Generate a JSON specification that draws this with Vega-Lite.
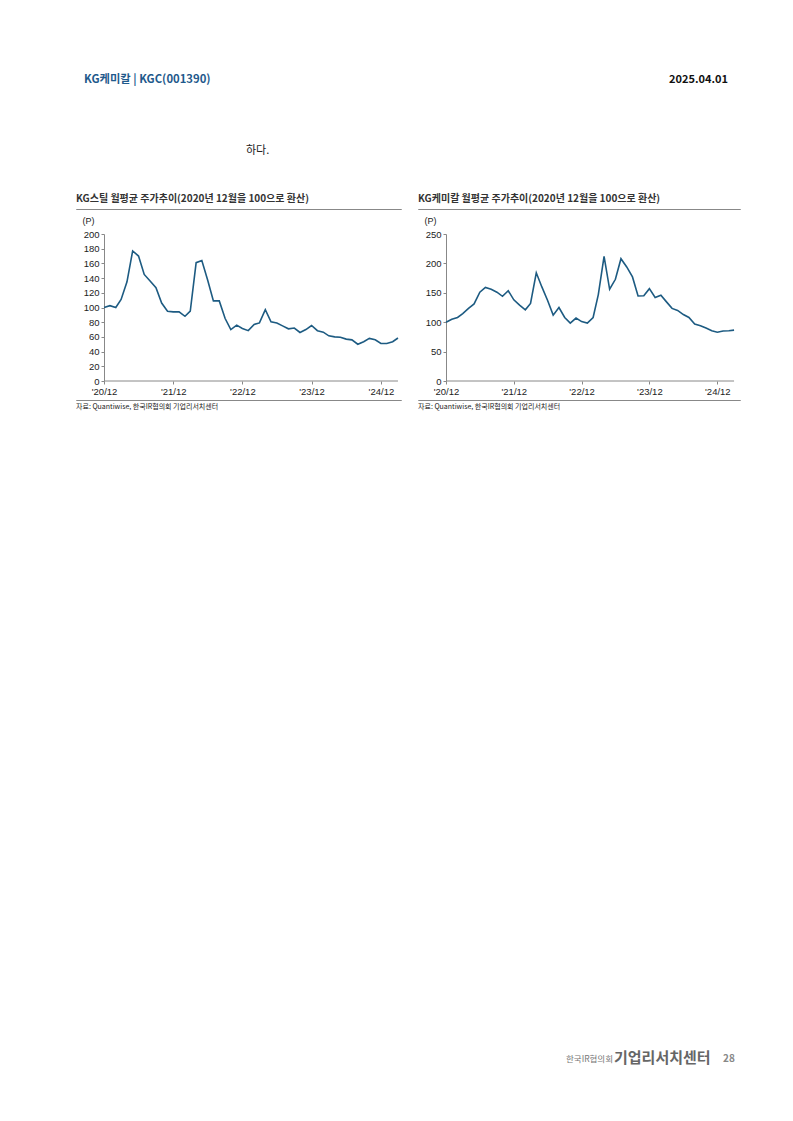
{
  "$schema": "https://vega.github.io/schema/vega-lite/v6.json",
  "background": "white",
  "padding": {"left": 75, "top": 73, "right": 0, "bottom": 0},
  "spacing": 0,
  "config": {
    "view": {"stroke": null},
    "font": "Liberation Sans",
    "title": {"font": "Noto Sans CJK KR", "anchor": "start"}
  },
  "datasets": {
    "steel": [
      {"date": "2020-12-01", "value": 100}, {"date": "2021-01-01", "value": 102.5}, {"date": "2021-02-01", "value": 100},
      {"date": "2021-03-01", "value": 111}, {"date": "2021-04-01", "value": 135}, {"date": "2021-05-01", "value": 177},
      {"date": "2021-06-01", "value": 170}, {"date": "2021-07-01", "value": 145}, {"date": "2021-08-01", "value": 136},
      {"date": "2021-09-01", "value": 127}, {"date": "2021-10-01", "value": 106}, {"date": "2021-11-01", "value": 95},
      {"date": "2021-12-01", "value": 94}, {"date": "2022-01-01", "value": 94}, {"date": "2022-02-01", "value": 88},
      {"date": "2022-03-01", "value": 95}, {"date": "2022-04-01", "value": 161}, {"date": "2022-05-01", "value": 164},
      {"date": "2022-06-01", "value": 137}, {"date": "2022-07-01", "value": 109}, {"date": "2022-08-01", "value": 109},
      {"date": "2022-09-01", "value": 85}, {"date": "2022-10-01", "value": 70}, {"date": "2022-11-01", "value": 76},
      {"date": "2022-12-01", "value": 71.5}, {"date": "2023-01-01", "value": 68.5}, {"date": "2023-02-01", "value": 77},
      {"date": "2023-03-01", "value": 79}, {"date": "2023-04-01", "value": 97}, {"date": "2023-05-01", "value": 80.5},
      {"date": "2023-06-01", "value": 79}, {"date": "2023-07-01", "value": 75}, {"date": "2023-08-01", "value": 71},
      {"date": "2023-09-01", "value": 72}, {"date": "2023-10-01", "value": 66}, {"date": "2023-11-01", "value": 70},
      {"date": "2023-12-01", "value": 75.5}, {"date": "2024-01-01", "value": 68.5}, {"date": "2024-02-01", "value": 66.5},
      {"date": "2024-03-01", "value": 61.5}, {"date": "2024-04-01", "value": 60}, {"date": "2024-05-01", "value": 59.5},
      {"date": "2024-06-01", "value": 57}, {"date": "2024-07-01", "value": 56}, {"date": "2024-08-01", "value": 50},
      {"date": "2024-09-01", "value": 53.5}, {"date": "2024-10-01", "value": 58}, {"date": "2024-11-01", "value": 56},
      {"date": "2024-12-01", "value": 51}, {"date": "2025-01-01", "value": 51}, {"date": "2025-02-01", "value": 53.5},
      {"date": "2025-03-01", "value": 58.5}
    ],
    "chem": [
      {"date": "2020-12-01", "value": 100}, {"date": "2021-01-01", "value": 105}, {"date": "2021-02-01", "value": 108},
      {"date": "2021-03-01", "value": 114.5}, {"date": "2021-04-01", "value": 123.5}, {"date": "2021-05-01", "value": 131},
      {"date": "2021-06-01", "value": 151}, {"date": "2021-07-01", "value": 159}, {"date": "2021-08-01", "value": 156},
      {"date": "2021-09-01", "value": 151}, {"date": "2021-10-01", "value": 144}, {"date": "2021-11-01", "value": 153.5},
      {"date": "2021-12-01", "value": 138}, {"date": "2022-01-01", "value": 129}, {"date": "2022-02-01", "value": 121},
      {"date": "2022-03-01", "value": 132}, {"date": "2022-04-01", "value": 184}, {"date": "2022-05-01", "value": 160},
      {"date": "2022-06-01", "value": 137}, {"date": "2022-07-01", "value": 112}, {"date": "2022-08-01", "value": 125},
      {"date": "2022-09-01", "value": 108}, {"date": "2022-10-01", "value": 98.5}, {"date": "2022-11-01", "value": 107},
      {"date": "2022-12-01", "value": 101}, {"date": "2023-01-01", "value": 98.5}, {"date": "2023-02-01", "value": 108},
      {"date": "2023-03-01", "value": 147}, {"date": "2023-04-01", "value": 212}, {"date": "2023-05-01", "value": 156},
      {"date": "2023-06-01", "value": 173}, {"date": "2023-07-01", "value": 208}, {"date": "2023-08-01", "value": 194},
      {"date": "2023-09-01", "value": 177}, {"date": "2023-10-01", "value": 144.5}, {"date": "2023-11-01", "value": 145},
      {"date": "2023-12-01", "value": 157}, {"date": "2024-01-01", "value": 142}, {"date": "2024-02-01", "value": 146},
      {"date": "2024-03-01", "value": 135}, {"date": "2024-04-01", "value": 123.5}, {"date": "2024-05-01", "value": 120},
      {"date": "2024-06-01", "value": 113}, {"date": "2024-07-01", "value": 108}, {"date": "2024-08-01", "value": 97},
      {"date": "2024-09-01", "value": 94}, {"date": "2024-10-01", "value": 90}, {"date": "2024-11-01", "value": 85.5},
      {"date": "2024-12-01", "value": 83}, {"date": "2025-01-01", "value": 85}, {"date": "2025-02-01", "value": 85.5},
      {"date": "2025-03-01", "value": 86.5}
    ]
  },
  "vconcat": [
    {
      "spacing": 0,
      "hconcat": [
        {"width": 8, "height": 60, "data": {"values": []}, "mark": "point"},
        {"width": 322, "height": 60, "data": {"values": []}, "mark": "point",
         "title": {"text": "KG케미칼 | KGC(001390)", "anchor": "start", "fontSize": 11.3, "fontWeight": "bold", "color": "#1f5a8c", "offset": 0}},
        {"width": 322, "height": 60, "data": {"values": []}, "mark": "point",
         "title": {"text": "2025.04.01", "anchor": "end", "fontSize": 11, "fontWeight": "bold", "color": "#111111", "offset": 0}}
      ]
    },
    {
      "spacing": 0,
      "hconcat": [
        {"width": 170, "height": 37, "data": {"values": []}, "mark": "point"},
        {"width": 40, "height": 37, "data": {"values": []}, "mark": "point",
         "title": {"text": "하다.", "anchor": "start", "fontSize": 11, "fontWeight": "normal", "color": "#222222", "offset": 0}}
      ]
    },
    {
      "spacing": 15,
      "hconcat": [
        {
          "spacing": 3,
          "vconcat": [
            {
              "spacing": 6,
              "vconcat": [
                {"width": 325, "height": 0.01, "data": {"values": []}, "mark": "point",
                 "view": {"stroke": "#888888", "strokeWidth": 1},
                 "title": {"text": "KG스틸 월평균 주가추이(2020년 12월을 100으로 환산)", "anchor": "start", "fontSize": 10, "fontWeight": "bold", "color": "#333333", "offset": 5}},
                {
                  "width": 325, "height": 147,
                  "encoding": {
                    "x": {"type": "temporal",
                          "scale": {"type": "utc", "domain": [{"year": 2020, "month": 7, "date": 6, "utc": true}, {"year": 2025, "month": 3, "date": 17, "utc": true}]},
                          "axis": {"title": null, "grid": false, "domain": false, "format": "'%y/%m", "labelFlush": false,
                                   "values": [{"year": 2020, "month": 12, "date": 1, "utc": true}, {"year": 2021, "month": 12, "date": 1, "utc": true}, {"year": 2022, "month": 12, "date": 1, "utc": true}, {"year": 2023, "month": 12, "date": 1, "utc": true}, {"year": 2024, "month": 12, "date": 1, "utc": true}],
                                   "tickColor": "#888888", "tickSize": 3, "labelFontSize": 9.5, "labelColor": "#222222", "labelPadding": 2}},
                    "y": {"type": "quantitative",
                          "scale": {"domain": [0, 200]},
                          "axis": {"title": "(P)", "titleAngle": 0, "titleX": -22, "titleY": -14, "titleAlign": "left", "titleBaseline": "middle",
                                   "titleFontSize": 9, "titleFontWeight": "normal", "titleColor": "#222222",
                                   "values": [0, 20, 40, 60, 80, 100, 120, 140, 160, 180, 200], "grid": false, "offset": -28, "labelOverlap": false,
                                   "domainColor": "#888888", "tickColor": "#888888", "tickSize": 3, "labelPadding": 2,
                                   "labelFontSize": 9.5, "labelColor": "#222222", "minExtent": 0}}
                  },
                  "layer": [
                    {
                      "data": {"values": [{}]},
                      "mark": {"type": "rule", "color": "#888888", "strokeWidth": 1},
                      "encoding": {
                        "x": {"datum": {"year": 2020, "month": 12, "date": 1, "utc": true}},
                        "x2": {"datum": {"year": 2025, "month": 3, "date": 1, "utc": true}},
                        "y": {"datum": 0}
                      }
                    },
                    {
                      "data": {"name": "steel"},
                      "mark": {"type": "line", "color": "#1d5b82", "strokeWidth": 1.6},
                      "encoding": {
                        "x": {"field": "date"},
                        "y": {"field": "value"}
                      }
                    }
                  ]
                }
              ]
            },
            {"width": 325, "height": 0.01, "data": {"values": []}, "mark": "point",
             "view": {"stroke": "#888888", "strokeWidth": 1},
             "title": {"text": "자료: Quantiwise, 한국IR협의회 기업리서치센터", "orient": "bottom", "anchor": "start", "fontSize": 7, "fontWeight": "normal", "color": "#222222", "offset": 3}}
          ]
        },
        {
          "spacing": 3,
          "vconcat": [
            {
              "spacing": 6,
              "vconcat": [
                {"width": 322, "height": 0.01, "data": {"values": []}, "mark": "point",
                 "view": {"stroke": "#888888", "strokeWidth": 1},
                 "title": {"text": "KG케미칼 월평균 주가추이(2020년 12월을 100으로 환산)", "anchor": "start", "fontSize": 10, "fontWeight": "bold", "color": "#333333", "offset": 5}},
                {
                  "width": 322, "height": 147,
                  "encoding": {
                    "x": {"type": "temporal",
                          "scale": {"type": "utc", "domain": [{"year": 2020, "month": 7, "date": 3, "utc": true}, {"year": 2025, "month": 4, "date": 2, "utc": true}]},
                          "axis": {"title": null, "grid": false, "domain": false, "format": "'%y/%m", "labelFlush": false,
                                   "values": [{"year": 2020, "month": 12, "date": 1, "utc": true}, {"year": 2021, "month": 12, "date": 1, "utc": true}, {"year": 2022, "month": 12, "date": 1, "utc": true}, {"year": 2023, "month": 12, "date": 1, "utc": true}, {"year": 2024, "month": 12, "date": 1, "utc": true}],
                                   "tickColor": "#888888", "tickSize": 3, "labelFontSize": 9.5, "labelColor": "#222222", "labelPadding": 2}},
                    "y": {"type": "quantitative",
                          "scale": {"domain": [0, 250]},
                          "axis": {"title": "(P)", "titleAngle": 0, "titleX": -22, "titleY": -14, "titleAlign": "left", "titleBaseline": "middle",
                                   "titleFontSize": 9, "titleFontWeight": "normal", "titleColor": "#222222",
                                   "values": [0, 50, 100, 150, 200, 250], "grid": false, "offset": -28, "labelOverlap": false,
                                   "domainColor": "#888888", "tickColor": "#888888", "tickSize": 3, "labelPadding": 2,
                                   "labelFontSize": 9.5, "labelColor": "#222222", "minExtent": 0}}
                  },
                  "layer": [
                    {
                      "data": {"values": [{}]},
                      "mark": {"type": "rule", "color": "#888888", "strokeWidth": 1},
                      "encoding": {
                        "x": {"datum": {"year": 2020, "month": 12, "date": 1, "utc": true}},
                        "x2": {"datum": {"year": 2025, "month": 3, "date": 1, "utc": true}},
                        "y": {"datum": 0}
                      }
                    },
                    {
                      "data": {"name": "chem"},
                      "mark": {"type": "line", "color": "#1d5b82", "strokeWidth": 1.6},
                      "encoding": {
                        "x": {"field": "date"},
                        "y": {"field": "value"}
                      }
                    }
                  ]
                }
              ]
            },
            {"width": 322, "height": 0.01, "data": {"values": []}, "mark": "point",
             "view": {"stroke": "#888888", "strokeWidth": 1},
             "title": {"text": "자료: Quantiwise, 한국IR협의회 기업리서치센터", "orient": "bottom", "anchor": "start", "fontSize": 7, "fontWeight": "normal", "color": "#222222", "offset": 3}}
          ]
        }
      ]
    },
    {
      "spacing": 0,
      "hconcat": [
        {"width": 490, "height": 640, "data": {"values": []}, "mark": "point"},
        {"width": 48, "height": 640, "data": {"values": []}, "mark": "point",
         "title": {"text": "한국IR협의회", "orient": "bottom", "anchor": "start", "fontSize": 8.5, "fontWeight": "normal", "color": "#777777", "offset": 0, "dy": 3.5}},
        {"width": 109, "height": 640, "data": {"values": []}, "mark": "point",
         "title": {"text": "기업리서치센터", "orient": "bottom", "anchor": "start", "fontSize": 15, "fontWeight": "bold", "color": "#666666", "offset": 0, "dy": -0.5}},
        {"width": 15, "height": 640, "data": {"values": []}, "mark": "point",
         "title": {"text": "28", "orient": "bottom", "anchor": "start", "fontSize": 10, "fontWeight": "bold", "color": "#888888", "offset": 0, "dy": 2.5}}
      ]
    }
  ]
}
